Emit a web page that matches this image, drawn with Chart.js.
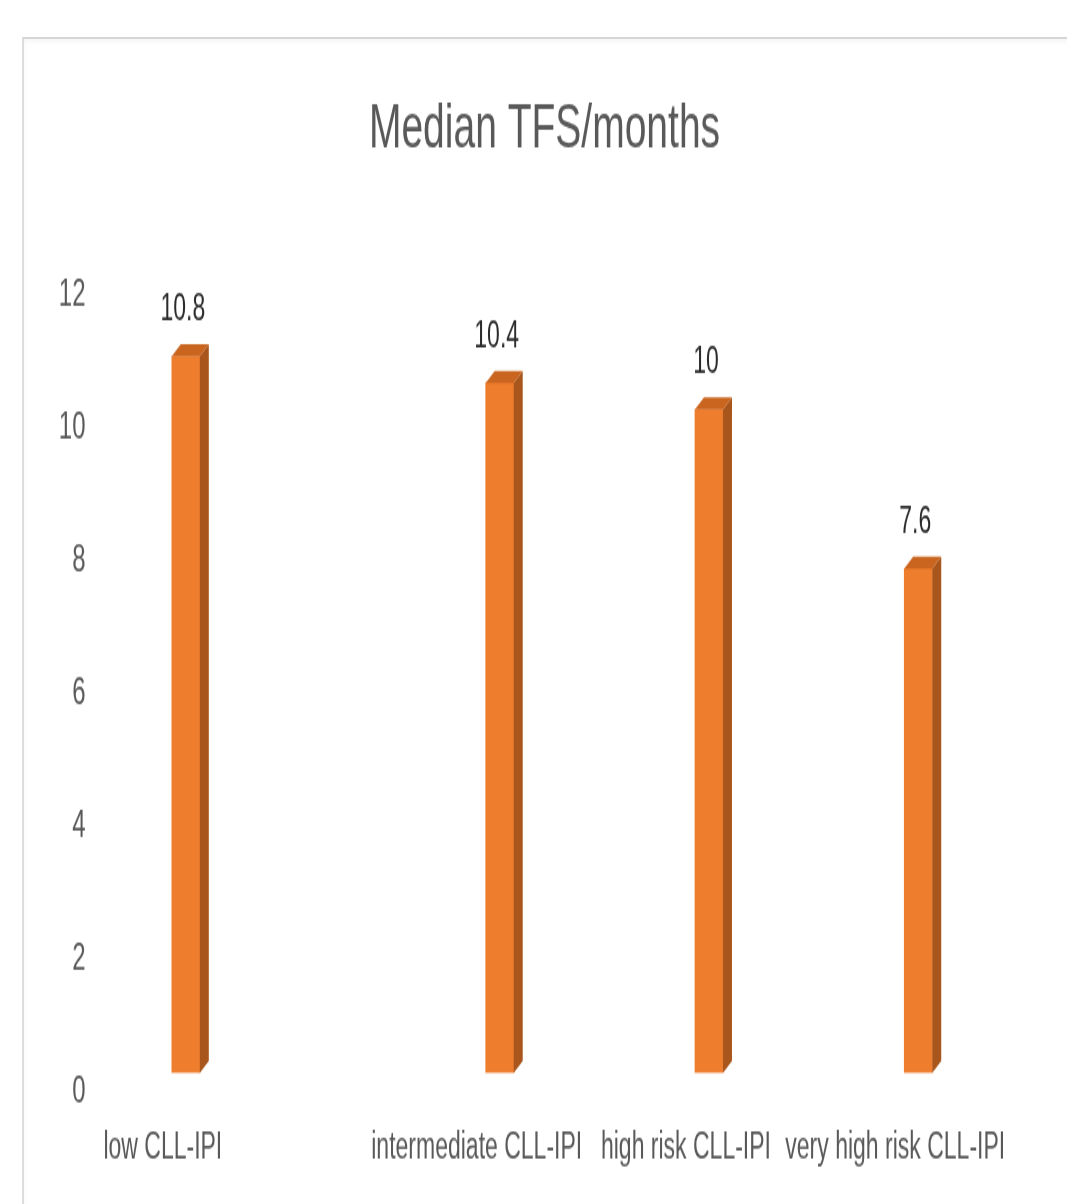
<!DOCTYPE html>
<html>
<head>
<meta charset="utf-8">
<script src="https://cdn.jsdelivr.net/npm/chart.js@4.4.1/dist/chart.umd.min.js"></script>
<style>
  html, body { margin: 0; padding: 0; background: #fff; }
  body { width: 1067px; height: 1204px; position: relative; overflow: hidden; }
  #frame {
    position: absolute; left: 22px; top: 37px; width: 1060px; height: 1180px;
    border-top: 2px solid #d6d6d6; border-left: 2px solid #dcdcdc;
    box-shadow: inset 0 3px 4px rgba(0,0,0,0.04);
  }
  #chart { position: absolute; left: 22px; top: 37px; }
</style>
</head>
<body>
<div id="frame"></div>
<canvas id="chart" width="1045" height="730" style="width:1045px;height:1168px"></canvas>
<script>
// Excel-style sheet had empty rows between some categories, hence the blanks
const categories = ["low CLL-IPI", "", "", "intermediate CLL-IPI", "", "high risk CLL-IPI", "", "very high risk CLL-IPI"];
const tfsMonths = [10.8, null, null, 10.4, null, 10, null, 7.6];
const yTicks = [0, 2, 4, 6, 8, 10, 12];

const FONT = "'Liberation Sans', Arial, sans-serif";

// draws the side + top faces and the value labels (fake 3D columns)
const column3d = {
  id: "column3d",
  afterDatasetsDraw(chart) {
    const ctx = chart.ctx;
    const meta = chart.getDatasetMeta(0);
    const dx = 9, dy = 7.5;
    meta.data.forEach((bar, i) => {
      const v = tfsMonths[i];
      if (v == null) return;
      const left = bar.x - bar.width / 2;
      const right = bar.x + bar.width / 2;
      const top = bar.y;
      const base = bar.base;
      ctx.save();
      // right side
      ctx.fillStyle = "#a9561c";
      ctx.beginPath();
      ctx.moveTo(right, top);
      ctx.lineTo(right + dx, top - dy);
      ctx.lineTo(right + dx, base - dy);
      ctx.lineTo(right, base);
      ctx.closePath();
      ctx.fill();
      // top face
      ctx.fillStyle = "#c9651f";
      ctx.beginPath();
      ctx.moveTo(left, top);
      ctx.lineTo(left + dx, top - dy);
      ctx.lineTo(right + dx, top - dy);
      ctx.lineTo(right, top);
      ctx.closePath();
      ctx.fill();
      // value
      ctx.fillStyle = "#2b2b2b";
      ctx.font = "23px " + FONT;
      ctx.textAlign = "center";
      ctx.textBaseline = "middle";
      ctx.fillText(String(v), bar.x - 3, top - 29);
      ctx.restore();
    });
  }
};

new Chart(document.getElementById("chart"), {
  type: "bar",
  data: {
    labels: categories,
    datasets: [{
      label: "Median TFS/months",
      data: tfsMonths,
      backgroundColor: "#ee7d2e",
      borderWidth: 0,
      barThickness: 28
    }]
  },
  options: {
    responsive: false,
    devicePixelRatio: 1,
    animation: false,
    layout: { padding: 0 },
    plugins: {
      legend: { display: false },
      tooltip: { enabled: false },
      title: {
        display: true,
        text: "Median TFS/months",
        color: "#595959",
        font: { family: FONT, size: 39, weight: "normal" },
        padding: { top: 35, bottom: 68 }
      }
    },
    scales: {
      x: {
        grid: { display: false, drawTicks: false },
        border: { display: false },
        afterFit: (scale) => { scale.height = 82.5; },
        ticks: {
          autoSkip: false,
          maxRotation: 0,
          minRotation: 0,
          labelOffset: -23,
          padding: 33,
          color: "#595959",
          font: { family: FONT, size: 23 }
        }
      },
      y: {
        min: yTicks[0],
        max: yTicks[yTicks.length - 1],
        grid: { display: false, drawTicks: false },
        border: { display: false },
        afterFit: (scale) => { scale.width = 111.5; },
        afterBuildTicks: (scale) => { scale.ticks = yTicks.map(v => ({ value: v })); },
        ticks: {
          padding: 48,
          labelOffset: 12,
          color: "#595959",
          font: { family: FONT, size: 24 }
        }
      },
      // empty right-hand margin, kept as an invisible axis so the title stays centred
      yRight: {
        position: "right",
        min: yTicks[0],
        max: yTicks[yTicks.length - 1],
        grid: { display: false, drawTicks: false },
        border: { display: false },
        ticks: { display: false },
        afterFit: (scale) => { scale.width = 93.5; }
      }
    }
  },
  plugins: [column3d]
});
</script>
</body>
</html>
